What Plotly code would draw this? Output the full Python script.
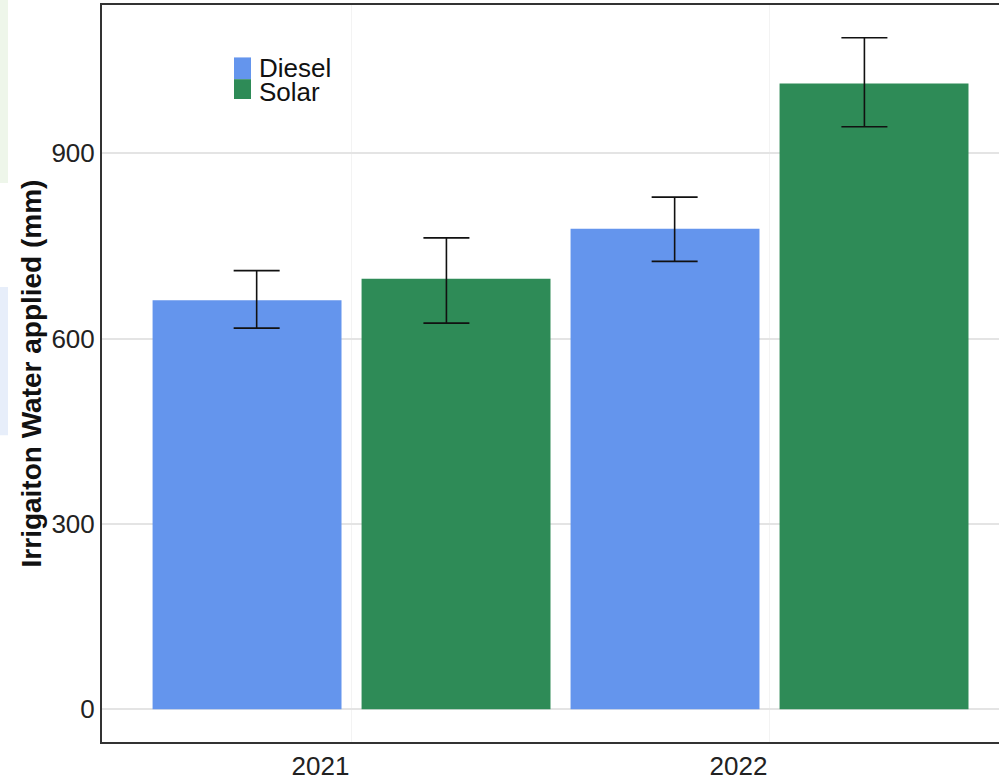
import plotly.graph_objects as go

# ---------------- data ----------------
years = ["2021", "2022"]
diesel = [662, 778]
diesel_err_plus = [48, 51]
diesel_err_minus = [45, 53]
solar = [697, 1013]
solar_err_plus = [66, 74]
solar_err_minus = [72, 70]
y_ticks = [0, 300, 600, 900]

# ---------------- style ----------------
W, H = 999, 781
L, R, T, B = 102, 999, 5, 750
BLUE = "#6495ED"
GREEN = "#2E8B57"
FONT = "Liberation Sans, Arial, sans-serif"
bar_dodge = 0.25
bar_width = 0.452
err_dodge = 0.227

def px_x(p):
    return (p - L) / (R - L)

def px_y(p):
    return (B - p) / (B - T)

idx = list(range(len(years)))

fig = go.Figure()
fig.add_trace(go.Bar(x=[i - bar_dodge for i in idx], y=diesel, width=bar_width,
                     marker=dict(color=BLUE, line=dict(width=0)), name="Diesel",
                     showlegend=False))
fig.add_trace(go.Bar(x=[i + bar_dodge for i in idx], y=solar, width=bar_width,
                     marker=dict(color=GREEN, line=dict(width=0)), name="Solar",
                     showlegend=False))
for vals, plus, minus, sign in [(diesel, diesel_err_plus, diesel_err_minus, -1),
                                (solar, solar_err_plus, solar_err_minus, 1)]:
    fig.add_trace(go.Scatter(
        x=[i + sign * err_dodge for i in idx], y=vals, mode="markers",
        marker=dict(size=1, opacity=0), showlegend=False, hoverinfo="skip",
        error_y=dict(type="data", symmetric=False, array=plus, arrayminus=minus,
                     color="#111111", thickness=1.6, width=23)))

shapes = []
# manual legend swatches
shapes.append(dict(type="rect", xref="paper", yref="paper",
                   x0=px_x(234), x1=px_x(251), y0=px_y(80), y1=px_y(58),
                   fillcolor=BLUE, line=dict(width=0)))
shapes.append(dict(type="rect", xref="paper", yref="paper",
                   x0=px_x(234), x1=px_x(251), y0=px_y(100), y1=px_y(80),
                   fillcolor=GREEN, line=dict(width=0)))
# faint strips at left edge
shapes.append(dict(type="rect", xref="paper", yref="paper",
                   x0=px_x(0), x1=px_x(8), y0=px_y(185), y1=px_y(0),
                   fillcolor="#eef6ea", line=dict(width=0), layer="below"))
shapes.append(dict(type="rect", xref="paper", yref="paper",
                   x0=px_x(0), x1=px_x(8), y0=px_y(440), y1=px_y(290),
                   fillcolor="#e7eefa", line=dict(width=0), layer="below"))

annotations = [
    dict(text="Diesel", xref="paper", yref="paper", x=px_x(258), y=px_y(69),
         xanchor="left", yanchor="middle", showarrow=False, borderpad=0,
         font=dict(family=FONT, size=26, color="#111")),
    dict(text="Solar", xref="paper", yref="paper", x=px_x(258), y=px_y(93),
         xanchor="left", yanchor="middle", showarrow=False, borderpad=0,
         font=dict(family=FONT, size=26, color="#111")),
]

fig.update_layout(
    width=W, height=H,
    margin=dict(l=L, r=W - R, t=T, b=H - B, pad=0),
    paper_bgcolor="white", plot_bgcolor="white",
    barmode="overlay",
    font=dict(family=FONT, size=26, color="#222"),
    shapes=shapes, annotations=annotations,
    xaxis=dict(range=[-0.597, 1.549], tickvals=idx, ticktext=years,
               ticklabelshift=-31, showgrid=True, gridcolor="#f3f3f3", gridwidth=1,
               showline=True, linecolor="#333333", linewidth=2, mirror=True,
               zeroline=False, ticks="", tickfont=dict(size=26, color="#222")),
    yaxis=dict(range=[-53, 1140], tickvals=y_ticks, showgrid=True,
               gridcolor="#e4e4e4", gridwidth=2, showline=True,
               linecolor="#333333", linewidth=2, zeroline=False, ticks="",
               tickfont=dict(size=26, color="#222"),
               title=dict(text="<b>Irrigaiton Water applied (mm)</b>", standoff=2,
                          font=dict(family=FONT, size=28, color="#111"))),
)

fig.write_html("out.html")
